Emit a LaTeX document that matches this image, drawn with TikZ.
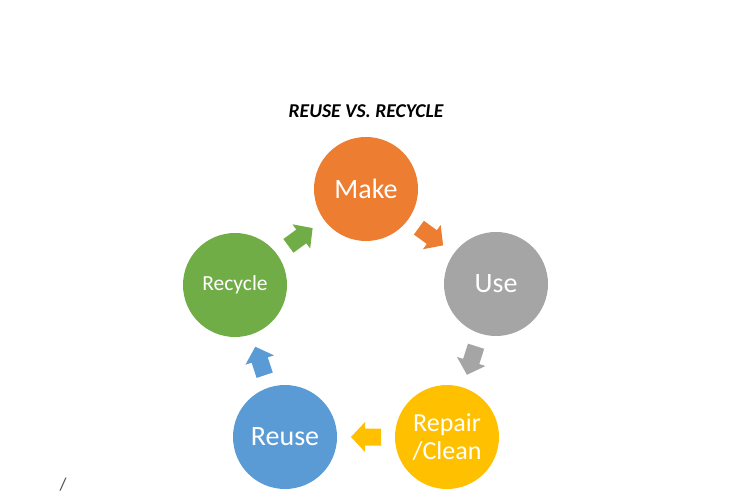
\documentclass[tikz,border=0pt]{standalone}
\usepackage{fontspec}
\setmainfont{Carlito}
\usetikzlibrary{calc}
\definecolor{cOrange}{HTML}{ED7D31}
\definecolor{cGray}{HTML}{A5A5A5}
\definecolor{cYellow}{HTML}{FFC000}
\definecolor{cBlue}{HTML}{5B9BD5}
\definecolor{cGreen}{HTML}{70AD47}
\tikzset{
  stage/.style={circle, inner sep=0pt, minimum size=104pt, text=white, align=center},
  bigtext/.style={font=\fontsize{28}{30}\selectfont},
  midtext/.style={font=\fontsize{26}{27.5}\selectfont},
  smalltext/.style={font=\fontsize{21.5}{24}\selectfont},
}
\newcommand\cyclearrow[3]{%
  \pgfmathanglebetweenpoints{\pgfpointanchor{#1}{center}}{\pgfpointanchor{#2}{center}}%
  \let\arrowang\pgfmathresult
  \begin{scope}[shift={($(#1)!0.5!(#2)$)}, rotate=\arrowang]
    \fill[#3] (-15,-8.5) -- (1,-8.5) -- (1,-15) -- (15,0) -- (1,15) -- (1,8.5) -- (-15,8.5) -- cycle;
  \end{scope}}
\begin{document}
\begin{tikzpicture}[x=1pt,y=1pt]
\useasboundingbox (0,0) rectangle (730,495);
\node[font=\fontsize{19.6}{21}\selectfont\bfseries\itshape] (title) at (366,384) {REUSE VS. RECYCLE};
\node[stage, bigtext, fill=cOrange] (make) at (366,306) {Make};
\node[stage, bigtext, fill=cGray] (use) at (496,211) {Use};
\node[stage, midtext, fill=cYellow] (repair) at (447,58) {Repair\\/Clean};
\node[stage, bigtext, fill=cBlue] (reuse) at (285,58) {Reuse};
\node[stage, smalltext, fill=cGreen] (recycle) at (235,210) {Recycle};
\cyclearrow{make}{use}{cOrange}
\cyclearrow{use}{repair}{cGray}
\cyclearrow{repair}{reuse}{cYellow}
\cyclearrow{reuse}{recycle}{cBlue}
\cyclearrow{recycle}{make}{cGreen}
\node[font=\fontsize{18}{20}\selectfont, text=black!70] (slash) at (63,10) {/};
\end{tikzpicture}
\end{document}
